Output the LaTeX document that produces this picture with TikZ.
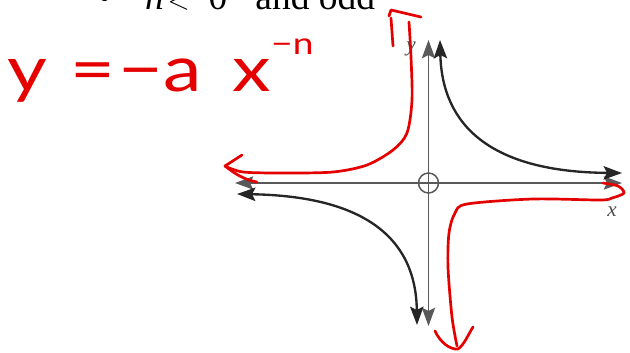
\documentclass[tikz,border=0pt]{standalone}
\usepackage{fontspec}
\setmainfont{Liberation Serif}
\newfontfamily\handfont{Lato}
\usetikzlibrary{arrows.meta}

\begin{document}
\begin{tikzpicture}[
  x=0.03cm,y=-0.03cm,
  >={Stealth[length=5.5mm,width=4mm,inset=1mm]},
  axis/.style={<->,black!65,line width=1.3pt},
  branch/.style={<->,black!85,line width=2pt},
  pen/.style={red!90!black,line width=2.3pt,line cap=round,line join=round},
  lab/.style={font=\fontsize{18}{18}\selectfont\itshape,text=black!70,inner sep=0pt}
]
  \useasboundingbox (0,0) rectangle (630,352);
  \clip (0,0) rectangle (630,352);
  \node[anchor=base west,inner sep=0pt,font=\fontsize{32}{32}\selectfont] (case) at (98,9)
    {\textbullet\hspace{0.9em}\textit{n}\hspace{0.1em}$<$\hspace{0.5em}0\hspace{0.75em}and odd};

  \coordinate (o) at (428.5,183);
  \draw[axis] (235,183) -- (622,183);
  \draw[axis] (428.5,40) -- (428.5,326);
  \draw[black!65,line width=1.3pt] (o) circle[radius=10];
  \draw[branch] (440,40) .. controls (442,125) and (490,172) .. (622,173);
  \draw[branch] (237,194) .. controls (360,196) and (416,235) .. (417,325);
  \node[lab] (ylab) at (411,49) {y};
  \node[lab] (xlab) at (612,212) {x};

  \node[anchor=base west,inner sep=0pt,text=red!90!black,font=\handfont\fontsize{54}{54}\selectfont] (law) at (7,91)
    {\scalebox{1.22}[1]{y\hspace{0.3em}=\hspace{0.05em}−a\hspace{0.4em}x\raisebox{0.57em}{\fontsize{26}{26}\selectfont −n}}};

  \draw[pen] (389,16) -- (391,10) -- (421,17);
  \draw[pen] (391,18) -- (393,46);
  \draw[pen] plot[smooth] coordinates {(409,22) (411,57) (412,100) (407,133) (393,150) (367,165) (333,172) (283,173) (243,172) (225,166)};
  \draw[pen] (242,155) -- (225,166) .. controls (235,174) and (245,180) .. (257,182);
  \draw[pen] plot[smooth] coordinates {(603,183) (618,186) (624,193) (612,198) (600,200) (533,199) (467,204) (455,213) (449,233) (448,267) (452,317) (457,346)};
  \draw[pen] (435,331) .. controls (440,342) and (450,350) .. (458,349) .. controls (464,345) and (468,335) .. (473,327);
\end{tikzpicture}
\end{document}
